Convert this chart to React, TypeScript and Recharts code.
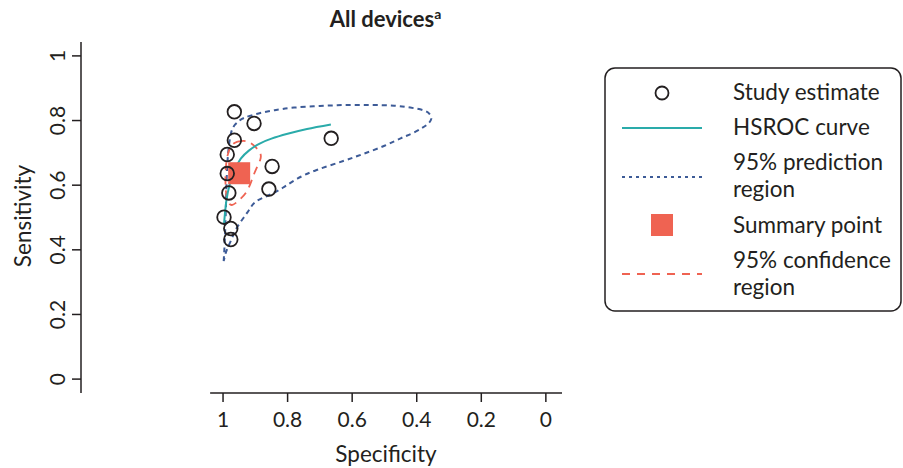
import {
  ComposedChart,
  XAxis,
  YAxis,
  Line,
  Scatter,
  ReferenceLine,
  Legend,
} from "recharts";

// specificity / sensitivity pairs
const studySpec = [0.965, 0.904, 0.965, 0.987, 0.987, 0.848, 0.982, 0.858, 0.997, 0.976, 0.976, 0.665];
const studySens = [0.827, 0.791, 0.739, 0.695, 0.636, 0.658, 0.576, 0.588, 0.501, 0.466, 0.432, 0.745];

const summarySpec = [0.95];
const summarySens = [0.637];

const hsrocSpec = [0.997, 0.99, 0.98, 0.965, 0.945, 0.92, 0.888, 0.85, 0.8, 0.74, 0.666];
const hsrocSens = [0.48, 0.55, 0.6, 0.645, 0.682, 0.707, 0.728, 0.744, 0.759, 0.774, 0.788];

const predSpec = [
  0.998, 0.995, 0.992, 0.99, 0.987, 0.982, 0.972, 0.955, 0.935, 0.89, 0.84, 0.78, 0.7, 0.62,
  0.54, 0.47, 0.42, 0.38, 0.36, 0.355, 0.365, 0.385, 0.415, 0.45, 0.5, 0.565, 0.63, 0.71,
  0.77, 0.815, 0.86, 0.9, 0.925, 0.955, 0.975, 0.99, 0.998,
];
const predSens = [
  0.365, 0.42, 0.5, 0.58, 0.66, 0.72, 0.772, 0.795, 0.808, 0.822, 0.832, 0.84, 0.845, 0.848,
  0.848, 0.846, 0.84, 0.832, 0.82, 0.805, 0.79, 0.776, 0.76, 0.745, 0.722, 0.697, 0.674, 0.647,
  0.62, 0.592, 0.568, 0.548, 0.515, 0.472, 0.43, 0.395, 0.365,
];

const confSpec = [0.955, 0.919, 0.888, 0.885, 0.903, 0.924, 0.95, 0.971, 0.985, 0.992, 0.99, 0.976, 0.955];
const confSens = [0.735, 0.733, 0.704, 0.678, 0.637, 0.585, 0.554, 0.539, 0.55, 0.595, 0.668, 0.719, 0.735];

const axisTicks = [0, 0.2, 0.4, 0.6, 0.8, 1];

const zip = (xs: number[], ys: number[]) => xs.map((spec, i) => ({ spec, sens: ys[i] }));

const studies = zip(studySpec, studySens);
const summary = zip(summarySpec, summarySens);
const hsroc = zip(hsrocSpec, hsrocSens);
const predRegion = zip(predSpec, predSens);
const confRegion = zip(confSpec, confSens);

const FONT = "Lato, 'DejaVu Sans', sans-serif";
const INK = "#231f20";
const TEAL = "#2aabaa";
const NAVY = "#3d5b97";
const RED = "#ef6352";

const YTick = (props: any) => {
  const { x, y, payload } = props;
  const bx = x - 5;
  return (
    <text
      x={bx}
      y={y}
      transform={`rotate(-90 ${bx} ${y})`}
      textAnchor="middle"
      fontSize={21}
      fontFamily={FONT}
      fill={INK}
    >
      {payload.value}
    </text>
  );
};

const LegendBox = () => (
  <svg width={298} height={245} style={{ display: "block" }}>
    <rect x={1} y={1} width={296} height={243} rx={10} fill="#fff" stroke={INK} strokeWidth={1.5} />
    <circle cx={58} cy={26} r={6.5} fill="none" stroke={INK} strokeWidth={1.8} />
    <line x1={18} x2={98} y1={61} y2={61} stroke={TEAL} strokeWidth={2} />
    <line x1={18} x2={98} y1={110} y2={110} stroke={NAVY} strokeWidth={2} strokeDasharray="3 4" />
    <rect x={47} y={147} width={22} height={22} fill={RED} />
    <line x1={18} x2={98} y1={207} y2={207} stroke={RED} strokeWidth={1.8} strokeDasharray="8 7" />
    <g fontFamily={FONT} fontSize={22.5} fill={INK}>
      <text x={129} y={33}>Study estimate</text>
      <text x={129} y={68}>HSROC curve</text>
      <text x={129} y={103}>95% prediction</text>
      <text x={129} y={130}>region</text>
      <text x={129} y={166}>Summary point</text>
      <text x={129} y={201}>95% confidence</text>
      <text x={129} y={228}>region</text>
    </g>
  </svg>
);

export default function App() {
  return (
    <div style={{ position: "absolute", left: 0, top: 0, width: 903, height: 468 }}>
      <svg
        width={903}
        height={40}
        style={{ position: "absolute", left: 0, top: 0, zIndex: 2, pointerEvents: "none" }}
      >
        <text x={385.5} y={27} textAnchor="middle" fontFamily={FONT} fontWeight={700} fontSize={22} fill={INK}>
          All devices
          <tspan fontSize={14} dy={-8}>a</tspan>
        </text>
      </svg>
      <ComposedChart
        width={903}
        height={468}
        margin={{ top: 42, right: 341, bottom: 0, left: 21 }}
      >
        <XAxis
          type="number"
          dataKey="spec"
          domain={[-0.05, 1.44]}
          reversed
          allowDataOverflow
          ticks={axisTicks}
          axisLine={false}
          tickSize={9}
          tickMargin={10}
          tickLine={{ stroke: INK, strokeWidth: 1.5 }}
          tick={{ fontSize: 21, fontFamily: FONT, fill: INK }}
          height={75}
          label={{
            content: () => (
              <text x={386} y={462} textAnchor="middle" fontSize={22.5} fontFamily={FONT} fill={INK}>
                Specificity
              </text>
            ),
          }}
        />
        <YAxis
          type="number"
          dataKey="sens"
          domain={[-0.043, 1.043]}
          allowDataOverflow
          ticks={axisTicks}
          width={60}
          tickSize={9}
          tickMargin={2}
          axisLine={{ stroke: INK, strokeWidth: 1.5 }}
          tickLine={{ stroke: INK, strokeWidth: 1.5 }}
          tick={<YTick />}
          label={{
            content: () => (
              <text
                x={31}
                y={216}
                transform="rotate(-90 31 216)"
                textAnchor="middle"
                fontSize={22.5}
                fontFamily={FONT}
                fill={INK}
              >
                Sensitivity
              </text>
            ),
          }}
        />
        <ReferenceLine
          segment={[
            { x: 1.04, y: -0.043 },
            { x: -0.05, y: -0.043 },
          ]}
          stroke={INK}
          strokeWidth={1.5}
          ifOverflow="visible"
        />
        <Line
          data={predRegion}
          dataKey="sens"
          type="natural"
          stroke={NAVY}
          strokeWidth={2}
          strokeDasharray="5 4"
          dot={false}
          activeDot={false}
          legendType="none"
          isAnimationActive={false}
        />
        <Line
          data={confRegion}
          dataKey="sens"
          type="natural"
          stroke={RED}
          strokeWidth={1.8}
          strokeDasharray="8 6"
          dot={false}
          activeDot={false}
          legendType="none"
          isAnimationActive={false}
        />
        <Scatter
          data={summary}
          dataKey="sens"
          legendType="none"
          isAnimationActive={false}
          shape={(p: any) => (
            <rect x={p.cx - 11} y={p.cy - 11} width={22} height={22} fill={RED} />
          )}
        />
        <Line
          data={hsroc}
          dataKey="sens"
          type="natural"
          stroke={TEAL}
          strokeWidth={2}
          dot={false}
          activeDot={false}
          legendType="none"
          isAnimationActive={false}
        />
        <Scatter
          data={studies}
          dataKey="sens"
          legendType="none"
          isAnimationActive={false}
          shape={(p: any) => (
            <circle cx={p.cx} cy={p.cy} r={6.8} fill="none" stroke={INK} strokeWidth={1.8} />
          )}
        />
        <Legend
          layout="vertical"
          align="center"
          verticalAlign="middle"
          wrapperStyle={{ left: 604, top: 67, width: 298, height: 245 }}
          content={() => <LegendBox />}
        />
      </ComposedChart>
    </div>
  );
}
